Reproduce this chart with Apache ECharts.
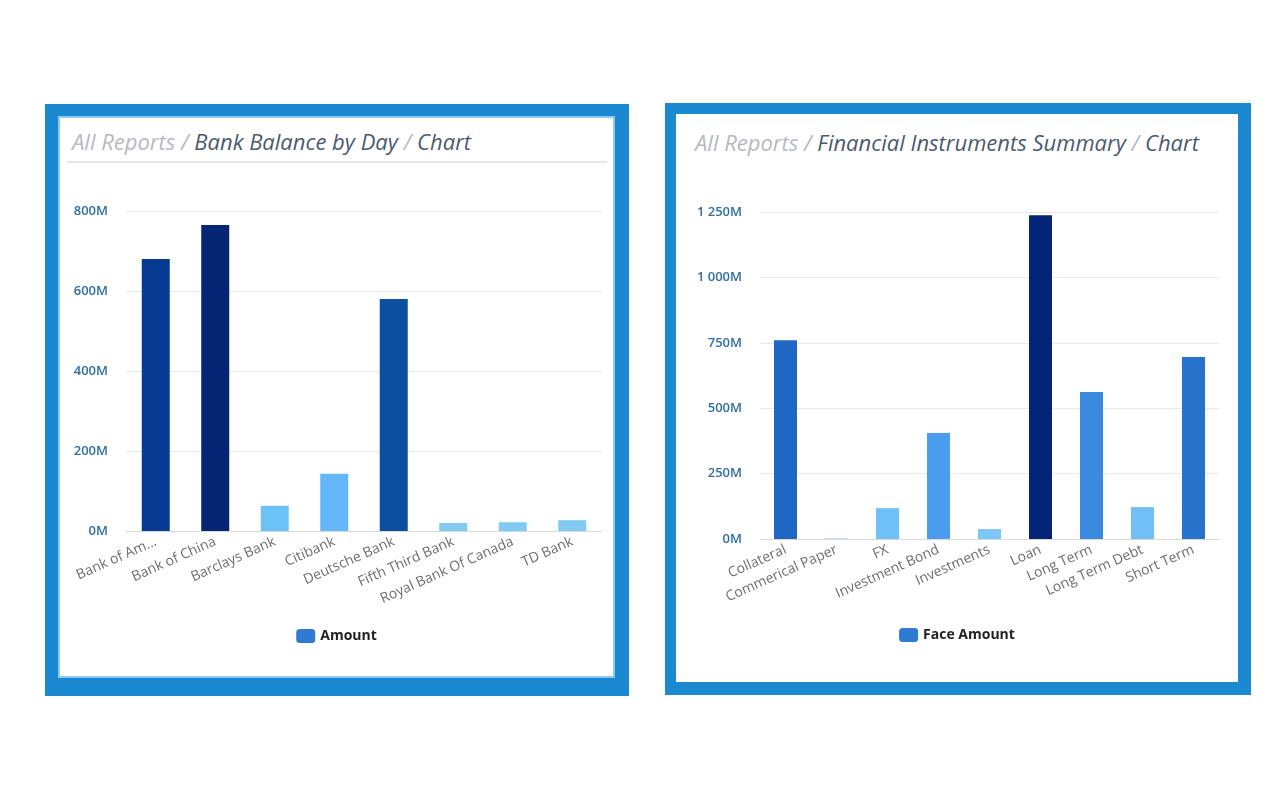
<!DOCTYPE html>
<html>
<head>
<meta charset="utf-8">
<script src="https://cdn.jsdelivr.net/npm/echarts@6/dist/echarts.min.js"></script>
<style>
  body { margin: 0; width: 1280px; height: 800px; background: #fff; position: relative; font-family: "Open Sans", sans-serif; }
  .frame { position: absolute; background: #1b88d2; }
  .inner { position: absolute; background: #fff; box-shadow: 0 0 0 2px #8cc8ef; }
  .crumb { position: absolute; font-size: 22px; font-style: italic; line-height: 24px; white-space: nowrap; }
  .crumb .dim { color: #b6b9c0; }
  .crumb .cur { color: #4b5a70; }
  .sep { position: absolute; height: 2px; background: #e6e6e6; }
  .chart { position: absolute; }
</style>
</head>
<body>
  <div class="frame" style="left:45px;top:104px;width:584px;height:592px;"></div>
  <div class="inner" style="left:60px;top:118px;width:553px;height:558px;"></div>
  <div class="frame" style="left:665px;top:103px;width:586px;height:592px;"></div>
  <div class="inner" style="left:676px;top:114px;width:562px;height:568px;box-shadow:none;"></div>

  <div class="crumb" style="left:72px;top:129px;"><span class="dim">All Reports / </span><span class="cur">Bank Balance by Day</span><span class="dim"> / </span><span class="cur">Chart</span></div>
  <div class="sep" style="left:67px;top:161px;width:540px;"></div>
  <div class="crumb" style="left:695px;top:130px;"><span class="dim">All Reports / </span><span class="cur">Financial Instruments Summary</span><span class="dim"> / </span><span class="cur">Chart</span></div>

  <div class="chart" id="bankChart" style="left:60px;top:165px;width:553px;height:510px;"></div>
  <div class="chart" id="instChart" style="left:676px;top:165px;width:562px;height:516px;"></div>

<script>
// bank balance by day (millions)
var bankNames = ['Bank of Am...', 'Bank of China', 'Barclays Bank', 'Citibank', 'Deutsche Bank', 'Fifth Third Bank', 'Royal Bank Of Canada', 'TD Bank']
var bankAmounts = [680, 765, 63, 143, 580, 20, 22, 27]
var bankColors = ['#063a93', '#052575', '#6cc1f5', '#63b6f7', '#0b4fa0', '#7fcbf3', '#7fcbf3', '#7fcbf3']
var bankTicks = [0, 200, 400, 600, 800]

// financial instruments summary (millions)
var instNames = ['Collateral', 'Commerical Paper', 'FX', 'Investment Bond', 'Investments', 'Loan', 'Long Term', 'Long Term Debt', 'Short Term']
var instAmounts = [760, 3, 118, 405, 38, 1238, 562, 122, 696]
var instColors = ['#1f67c2', '#a6d8f0', '#6dc1f7', '#4a9cee', '#7ac8f5', '#042577', '#3a8ae0', '#70c0f7', '#2773cc']
var instTicks = [0, 250, 500, 750, 1000, 1250]

function fmtM (v) {
  return String(v).replace(/\B(?=(\d{3})+(?!\d))/g, ' ') + 'M'
}

function buildOption (names, values, colors, ticks, seriesName, grid, barWidth, legendTop) {
  return {
    animation: false,
    textStyle: { fontFamily: 'Open Sans' },
    grid: grid,
    legend: {
      data: [seriesName],
      left: 'center',
      top: legendTop,
      itemWidth: 19,
      itemHeight: 14,
      itemGap: 6,
      textStyle: { color: '#222', fontSize: 14, fontWeight: 'bold' }
    },
    xAxis: {
      type: 'category',
      data: names,
      axisLine: { lineStyle: { color: '#d9d9d9' } },
      axisTick: { length: 6, lineStyle: { color: '#d9d9d9' } },
      axisLabel: { rotate: 24, color: '#6e6e6e', fontSize: 14, margin: 10, interval: 0 }
    },
    yAxis: {
      type: 'value',
      min: 0,
      max: ticks[ticks.length - 1],
      interval: ticks[1] - ticks[0],
      axisLine: { show: false },
      axisTick: { show: false },
      splitLine: { lineStyle: { color: '#e9e9e9' } },
      axisLabel: { color: '#2f6ea8', fontSize: 13, fontWeight: 600, margin: 18, formatter: fmtM }
    },
    series: [{
      name: seriesName,
      type: 'bar',
      barWidth: barWidth,
      itemStyle: { color: '#2f7bd3' },
      data: values.map(function (v, i) {
        return { value: v, itemStyle: { color: colors[i] } }
      })
    }]
  }
}

var bankChart = echarts.init(document.getElementById('bankChart'))
bankChart.setOption(buildOption(bankNames, bankAmounts, bankColors, bankTicks, 'Amount',
  { left: 66, top: 46, width: 476, height: 320 }, 28, 459))

var instChart = echarts.init(document.getElementById('instChart'))
instChart.setOption(buildOption(instNames, instAmounts, instColors, instTicks, 'Face Amount',
  { left: 84, top: 47, width: 459, height: 327 }, 23, 458))
</script>
</body>
</html>
